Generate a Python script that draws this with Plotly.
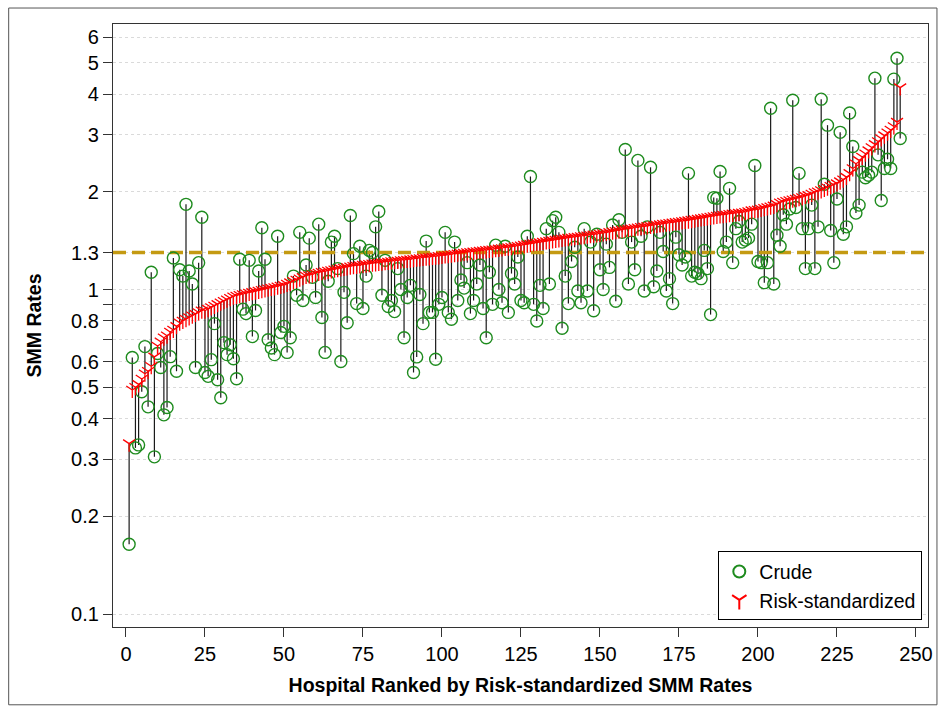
import math
import plotly.graph_objects as go

# ---------------- data ----------------
crude = [
    0.164, 0.617, 0.325, 0.332, 0.484, 0.667, 0.435, 1.13, 0.305, 0.635,
    0.575, 0.411, 0.433, 0.621, 1.25, 0.56, 1.15, 1.10, 1.83, 1.14,
    1.04, 0.575, 1.21, 1.67, 0.555, 0.54, 0.608, 0.785, 0.527, 0.464,
    0.686, 0.63, 0.676, 0.612, 0.531, 1.24, 0.87, 0.843, 1.23, 0.716,
    0.862, 1.14, 1.55, 1.24, 0.70, 0.66, 0.63, 1.46, 0.737, 0.77,
    0.64, 0.71, 1.10, 0.96, 1.50, 0.925, 1.19, 1.44, 1.09, 0.945,
    1.59, 0.82, 0.64, 1.06, 1.40, 1.46, 1.16, 0.60, 0.98, 0.79,
    1.69, 1.29, 0.905, 1.36, 0.874, 1.10, 1.32, 1.30, 1.56, 1.74,
    0.96, 1.23, 0.886, 0.925, 0.855, 1.16, 1.0, 0.71, 0.945, 1.03,
    0.555, 0.62, 0.965, 0.785, 1.41, 0.85, 0.85, 0.61, 0.90, 0.945,
    1.50, 0.85, 0.81, 1.40, 0.925, 1.07, 1.01, 1.21, 0.843, 0.925,
    1.04, 1.19, 0.874, 0.71, 1.13, 0.90, 1.37, 1.0, 0.91, 1.36,
    0.85, 1.12, 1.04, 1.26, 0.925, 0.91, 1.46, 2.23, 0.90, 0.80,
    1.03, 0.874, 1.54, 1.04, 1.63, 1.67, 1.50, 0.76, 1.10, 0.905,
    1.22, 1.35, 0.99, 0.91, 1.54, 0.99, 1.40, 0.86, 1.48, 1.15,
    1.0, 1.38, 1.17, 1.58, 0.92, 1.64, 1.50, 2.70, 1.04, 1.40,
    1.15, 2.50, 1.46, 0.99, 1.56, 2.38, 1.02, 1.14, 1.50, 1.31,
    0.99, 1.08, 0.905, 1.45, 1.28, 1.19, 1.26, 2.28, 1.10, 1.13,
    1.12, 1.08, 1.32, 1.16, 0.837, 1.92, 1.91, 2.31, 1.31, 1.40,
    2.05, 1.21, 1.54, 1.62, 1.40, 1.42, 1.44, 1.59, 2.41, 1.22,
    1.21, 1.05, 1.21, 3.62, 1.04, 1.47, 1.36, 1.70, 1.59, 1.77,
    3.83, 1.79, 2.28, 1.54, 1.16, 1.54, 1.82, 1.16, 1.56, 3.86,
    2.11, 3.21, 1.52, 1.21, 1.90, 3.05, 1.48, 1.56, 3.50, 2.76,
    1.72, 1.82, 2.30, 2.21, 2.25, 2.30, 4.48, 2.60, 1.88, 2.36,
    2.52, 2.36, 4.45, 5.16, 2.92,
]

risk_std = [
    0.335, 0.49, 0.50, 0.51, 0.53, 0.55, 0.56, 0.58, 0.62, 0.67,
    0.69, 0.71, 0.72, 0.74, 0.75, 0.77, 0.79, 0.80, 0.81, 0.82,
    0.83, 0.84, 0.85, 0.86, 0.86, 0.87, 0.88, 0.89, 0.90, 0.91,
    0.92, 0.93, 0.94, 0.95, 0.955, 0.96, 0.965, 0.97, 0.975, 0.98,
    0.985, 0.99, 0.995, 1.00, 1.005, 1.01, 1.015, 1.02, 1.025, 1.03,
    1.04, 1.05, 1.06, 1.07, 1.08, 1.09, 1.10, 1.105, 1.11, 1.12,
    1.125, 1.13, 1.135, 1.14, 1.145, 1.15, 1.155, 1.16, 1.165, 1.17,
    1.175, 1.18, 1.182, 1.185, 1.19, 1.193, 1.196, 1.20, 1.203, 1.206,
    1.21, 1.213, 1.216, 1.22, 1.222, 1.225, 1.228, 1.23, 1.233, 1.236,
    1.24, 1.243, 1.246, 1.25, 1.253, 1.256, 1.26, 1.262, 1.265, 1.268,
    1.272, 1.276, 1.28, 1.284, 1.288, 1.292, 1.296, 1.30, 1.303, 1.306,
    1.31, 1.313, 1.316, 1.32, 1.323, 1.326, 1.33, 1.334, 1.338, 1.342,
    1.346, 1.35, 1.355, 1.36, 1.365, 1.37, 1.375, 1.38, 1.385, 1.39,
    1.395, 1.40, 1.405, 1.41, 1.415, 1.42, 1.425, 1.43, 1.435, 1.44,
    1.444, 1.448, 1.452, 1.456, 1.46, 1.465, 1.47, 1.474, 1.478, 1.482,
    1.488, 1.494, 1.50, 1.506, 1.512, 1.518, 1.524, 1.53, 1.535, 1.54,
    1.545, 1.55, 1.555, 1.56, 1.565, 1.57, 1.575, 1.58, 1.585, 1.59,
    1.595, 1.60, 1.605, 1.61, 1.615, 1.62, 1.625, 1.63, 1.636, 1.642,
    1.648, 1.654, 1.66, 1.666, 1.672, 1.678, 1.684, 1.69, 1.695, 1.70,
    1.705, 1.71, 1.715, 1.72, 1.725, 1.73, 1.74, 1.75, 1.755, 1.76,
    1.77, 1.78, 1.79, 1.80, 1.81, 1.83, 1.85, 1.86, 1.87, 1.88,
    1.89, 1.90, 1.91, 1.92, 1.94, 1.95, 1.97, 1.99, 2.00, 2.02,
    2.04, 2.06, 2.08, 2.10, 2.12, 2.15, 2.18, 2.22, 2.28, 2.36,
    2.44, 2.50, 2.56, 2.62, 2.68, 2.74, 2.80, 2.86, 2.92, 2.98,
    3.04, 3.10, 3.18, 3.28, 4.19,
]

rank = list(range(1, len(crude) + 1))

reference_rate = 1.3
y_tick_vals = [0.1, 0.2, 0.3, 0.4, 0.5, 0.6, 0.7, 0.8, 0.9, 1, 1.3, 2, 3, 4, 5, 6]
y_tick_text = ["0.1", "0.2", "0.3", "0.4", "0.5", "0.6", "", "0.8", "", "1", "1.3", "2", "3", "4", "5", "6"]
x_tick_vals = [0, 25, 50, 75, 100, 125, 150, 175, 200, 225, 250]

x_range = [-4.1, 253.8]
y_range = [0.0912, 6.58]

# ---------------- figure ----------------
FONT = "Liberation Sans, Arial, sans-serif"

seg_x, seg_y = [], []
for r, c, s in zip(rank, crude, risk_std):
    seg_x += [r, r, None]
    seg_y += [c, s, None]

fig = go.Figure()

fig.add_trace(go.Scatter(
    x=seg_x, y=seg_y, mode="lines",
    line=dict(color="#1a1a1a", width=1.2),
    showlegend=False, hoverinfo="skip",
))

fig.add_trace(go.Scatter(
    x=x_range, y=[reference_rate, reference_rate], mode="lines",
    line=dict(color="#C49A12", width=3.5, dash="13px,6px"),
    showlegend=False, hoverinfo="skip",
))

fig.add_trace(go.Scatter(
    x=rank, y=crude, mode="markers", name="Crude",
    marker=dict(symbol="circle-open", size=12, color="#1E8B1E",
                line=dict(color="#1E8B1E", width=1.4)),
))

fig.add_trace(go.Scatter(
    x=rank, y=risk_std, mode="markers", name="Risk-standardized",
    marker=dict(symbol="y-down", size=10, color="#FF0000",
                line=dict(color="#FF0000", width=1.3)),
))

fig.update_layout(
    width=943, height=713,
    margin=dict(l=113, r=10, t=24, b=86),
    paper_bgcolor="white", plot_bgcolor="white",
    font=dict(family=FONT, size=20, color="black"),
    legend=dict(
        x=0.993, y=0.011, xanchor="right", yanchor="bottom",
        bgcolor="white", bordercolor="black", borderwidth=1,
        font=dict(family=FONT, size=19.5, color="black"),
        tracegroupgap=0, itemsizing="constant", itemwidth=30,
    ),
    shapes=[dict(
        type="rect", xref="paper", yref="paper",
        x0=-0.128, x1=1.011, y0=-0.129, y1=1.0265,
        line=dict(color="#555555", width=1), fillcolor="rgba(0,0,0,0)",
        layer="below",
    )],
)

fig.update_xaxes(
    range=x_range, tickvals=x_tick_vals,
    ticks="outside", ticklen=9, tickwidth=1.2, tickcolor="#333333",
    showgrid=False, zeroline=False,
    showline=True, mirror=True, linecolor="#333333", linewidth=1.2,
    tickfont=dict(family=FONT, size=20, color="black"),
    title=dict(text="<b>Hospital Ranked by Risk-standardized SMM Rates</b>",
               font=dict(family=FONT, size=19.5, color="black"), standoff=14),
)

fig.update_yaxes(
    type="log", range=[math.log10(y_range[0]), math.log10(y_range[1])],
    tickvals=y_tick_vals, ticktext=y_tick_text,
    ticks="outside", ticklen=9, tickwidth=1.2, tickcolor="#333333",
    showgrid=True, gridcolor="#dadada", gridwidth=1, griddash="dot",
    zeroline=False,
    showline=True, mirror=True, linecolor="#333333", linewidth=1.2,
    tickfont=dict(family=FONT, size=20, color="black"),
    title=dict(text="<b>SMM Rates</b>",
               font=dict(family=FONT, size=19.5, color="black"), standoff=24),
)

fig.write_html("out.html")
